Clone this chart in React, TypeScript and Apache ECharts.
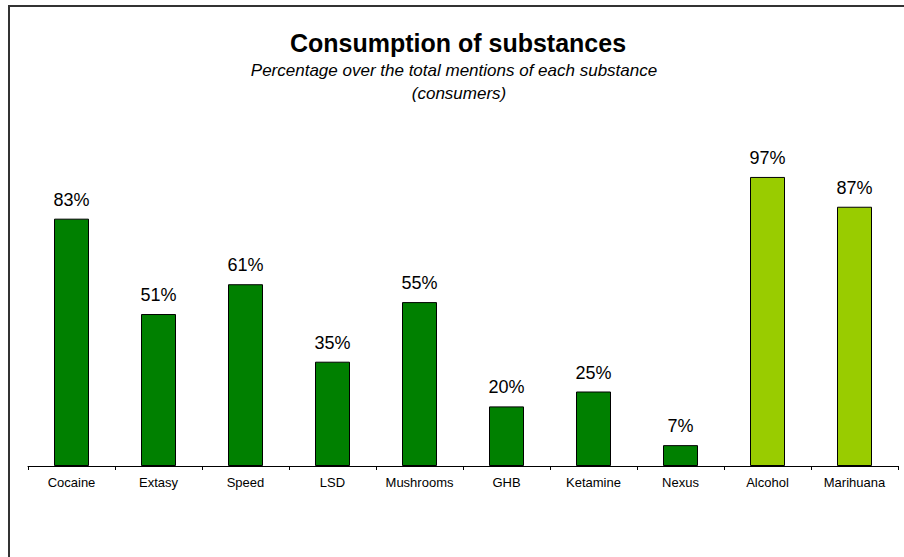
import React, { useEffect, useRef } from "react";
import * as echarts from "echarts";

const categories = ["Cocaine", "Extasy", "Speed", "LSD", "Mushrooms", "GHB", "Ketamine", "Nexus", "Alcohol", "Marihuana"];
const values = [83, 51, 61, 35, 55, 20, 25, 7, 97, 87];
const barColors = ["#008000", "#008000", "#008000", "#008000", "#008000", "#008000", "#008000", "#008000", "#99CC00", "#99CC00"];
const titleText = "Consumption of substances";
const subtitleLines = ["Percentage over the total mentions of each substance", "(consumers)"];

const FONT = "'Liberation Sans', Arial, sans-serif";

export default function App() {
  const ref = useRef<HTMLDivElement>(null);
  useEffect(() => {
    if (!ref.current) return;
    const chart = echarts.init(ref.current, undefined, { renderer: "svg" });
    chart.setOption({
      animation: false,
      backgroundColor: "#ffffff",
      grid: { left: 28, right: 6, top: 168, bottom: 91, containLabel: false },
      xAxis: {
        type: "category",
        data: categories,
        axisLine: { lineStyle: { color: "#000", width: 1 } },
        axisTick: { show: true, length: 4, lineStyle: { color: "#000" } },
        axisLabel: { color: "#000", fontSize: 13, fontFamily: FONT, margin: 10, interval: 0 },
      },
      yAxis: {
        type: "value",
        min: 0,
        max: 100,
        show: false,
        splitLine: { show: false },
      },
      series: [
        {
          type: "bar",
          barWidth: 35,
          data: values.map((v, i) => ({
            value: v,
            itemStyle: { color: barColors[i], borderColor: "#000", borderWidth: 1 },
          })),
          label: {
            show: true,
            position: "top",
            distance: 10,
            formatter: "{c}%",
            color: "#000",
            fontSize: 18,
            fontFamily: FONT,
          },
        },
      ],
      graphic: [
        {
          type: "rect",
          shape: { x: 9, y: 6, width: 1000, height: 700 },
          style: { fill: "none", stroke: "#333", lineWidth: 2 },
          silent: true,
        },
        {
          type: "text",
          x: 458,
          y: 43,
          style: {
            text: titleText,
            fontSize: 25,
            fontWeight: "bold",
            fontFamily: FONT,
            fill: "#000",
            align: "center",
            verticalAlign: "middle",
          },
        },
        {
          type: "text",
          x: 454,
          y: 70,
          style: {
            text: subtitleLines[0],
            fontSize: 17,
            fontStyle: "italic",
            fontFamily: FONT,
            fill: "#000",
            align: "center",
            verticalAlign: "middle",
          },
        },
        {
          type: "text",
          x: 459,
          y: 93,
          style: {
            text: subtitleLines[1],
            fontSize: 17,
            fontStyle: "italic",
            fontFamily: FONT,
            fill: "#000",
            align: "center",
            verticalAlign: "middle",
          },
        },
      ],
    });
    return () => chart.dispose();
  }, []);
  return (
    <div
      ref={ref}
      style={{ position: "fixed", left: 0, top: 0, width: 904, height: 557, background: "#fff" }}
    />
  );
}
